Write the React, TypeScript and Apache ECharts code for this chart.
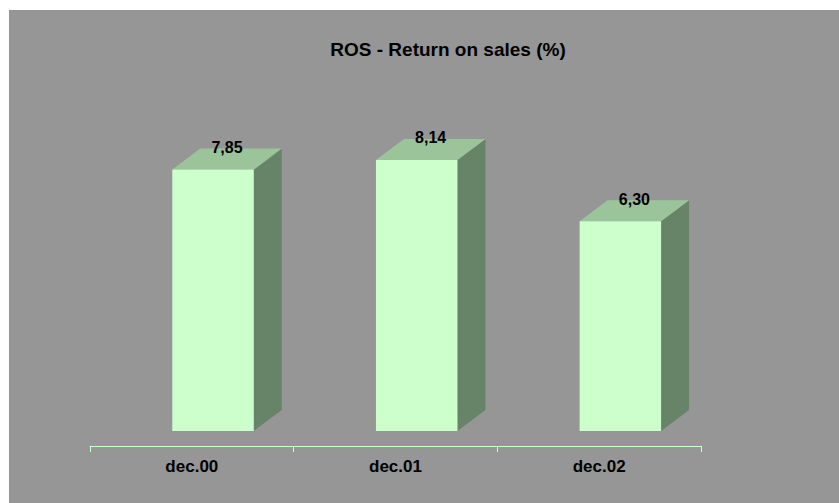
import React, { useEffect, useRef } from "react";
import * as echarts from "echarts";

const categories = ["dec.00", "dec.01", "dec.02"];
const rosValues = [7.85, 8.14, 6.3];
const titleText = "ROS - Return on sales (%)";

const FONT = "'Liberation Sans', Arial, Helvetica, sans-serif";

export default function App() {
  const ref = useRef<HTMLDivElement>(null);

  useEffect(() => {
    if (!ref.current) return;
    const chart = echarts.init(ref.current, null, { renderer: "svg" });

    const option: any = {
      animation: false,
      backgroundColor: "#969696",
      graphic: [
        {
          type: "text",
          x: 439,
          y: 39,
          style: {
            text: titleText,
            fontFamily: FONT,
            fontWeight: "bold",
            fontSize: 19,
            fill: "#000",
            align: "center",
            verticalAlign: "middle",
          },
        },
      ],
      grid: { left: 81, right: 138, top: 88, bottom: 57 },
      xAxis: {
        type: "category",
        data: categories,
        boundaryGap: true,
        axisLine: { onZero: false, lineStyle: { color: "#CCFFCC", width: 1 } },
        axisTick: { show: true, length: 6, lineStyle: { color: "#CCFFCC" } },
        axisLabel: {
          color: "#000",
          fontFamily: FONT,
          fontWeight: "bold",
          fontSize: 17,
          margin: 12,
        },
        splitLine: { show: false },
      },
      yAxis: {
        type: "value",
        min: -0.45,
        max: 10,
        show: false,
        splitLine: { show: false },
      },
      series: [
        {
          type: "custom",
          data: rosValues.map((v, i) => [i, v]),
          renderItem: (params: any, api: any) => {
            const idx = api.value(0);
            const val = api.value(1);
            const top = api.coord([idx, val]);
            const base = api.coord([idx, 0]);
            const band = api.size([1, 0])[0];
            const w = band * 0.4;
            const cx = top[0] + band * 0.104;
            const x0 = cx - w / 2;
            const x1 = cx + w / 2;
            const yT = top[1];
            const yB = base[1];
            const dx = 28;
            const dy = 21;
            const label = val.toFixed(2).replace(".", ",");
            return {
              type: "group",
              children: [
                {
                  type: "polygon",
                  shape: {
                    points: [
                      [x1, yT],
                      [x1 + dx, yT - dy],
                      [x1 + dx, yB - dy],
                      [x1, yB],
                    ],
                  },
                  style: { fill: "#688468" },
                },
                {
                  type: "polygon",
                  shape: {
                    points: [
                      [x0, yT],
                      [x1, yT],
                      [x1 + dx, yT - dy],
                      [x0 + dx, yT - dy],
                    ],
                  },
                  style: { fill: "#9BC49B" },
                },
                {
                  type: "rect",
                  shape: { x: x0, y: yT, width: w, height: yB - yT },
                  style: { fill: "#CCFFCC" },
                },
                {
                  type: "text",
                  x: cx + dx / 2,
                  y: yT - dy - 1,
                  style: {
                    text: label,
                    fontFamily: FONT,
                    fontWeight: "bold",
                    fontSize: 16,
                    fill: "#000",
                    align: "center",
                    verticalAlign: "middle",
                  },
                },
              ],
            };
          },
        },
      ],
    };

    chart.setOption(option);
    return () => chart.dispose();
  }, []);

  return (
    <div
      ref={ref}
      style={{ position: "absolute", left: 9, top: 10, width: 830, height: 493 }}
    />
  );
}
